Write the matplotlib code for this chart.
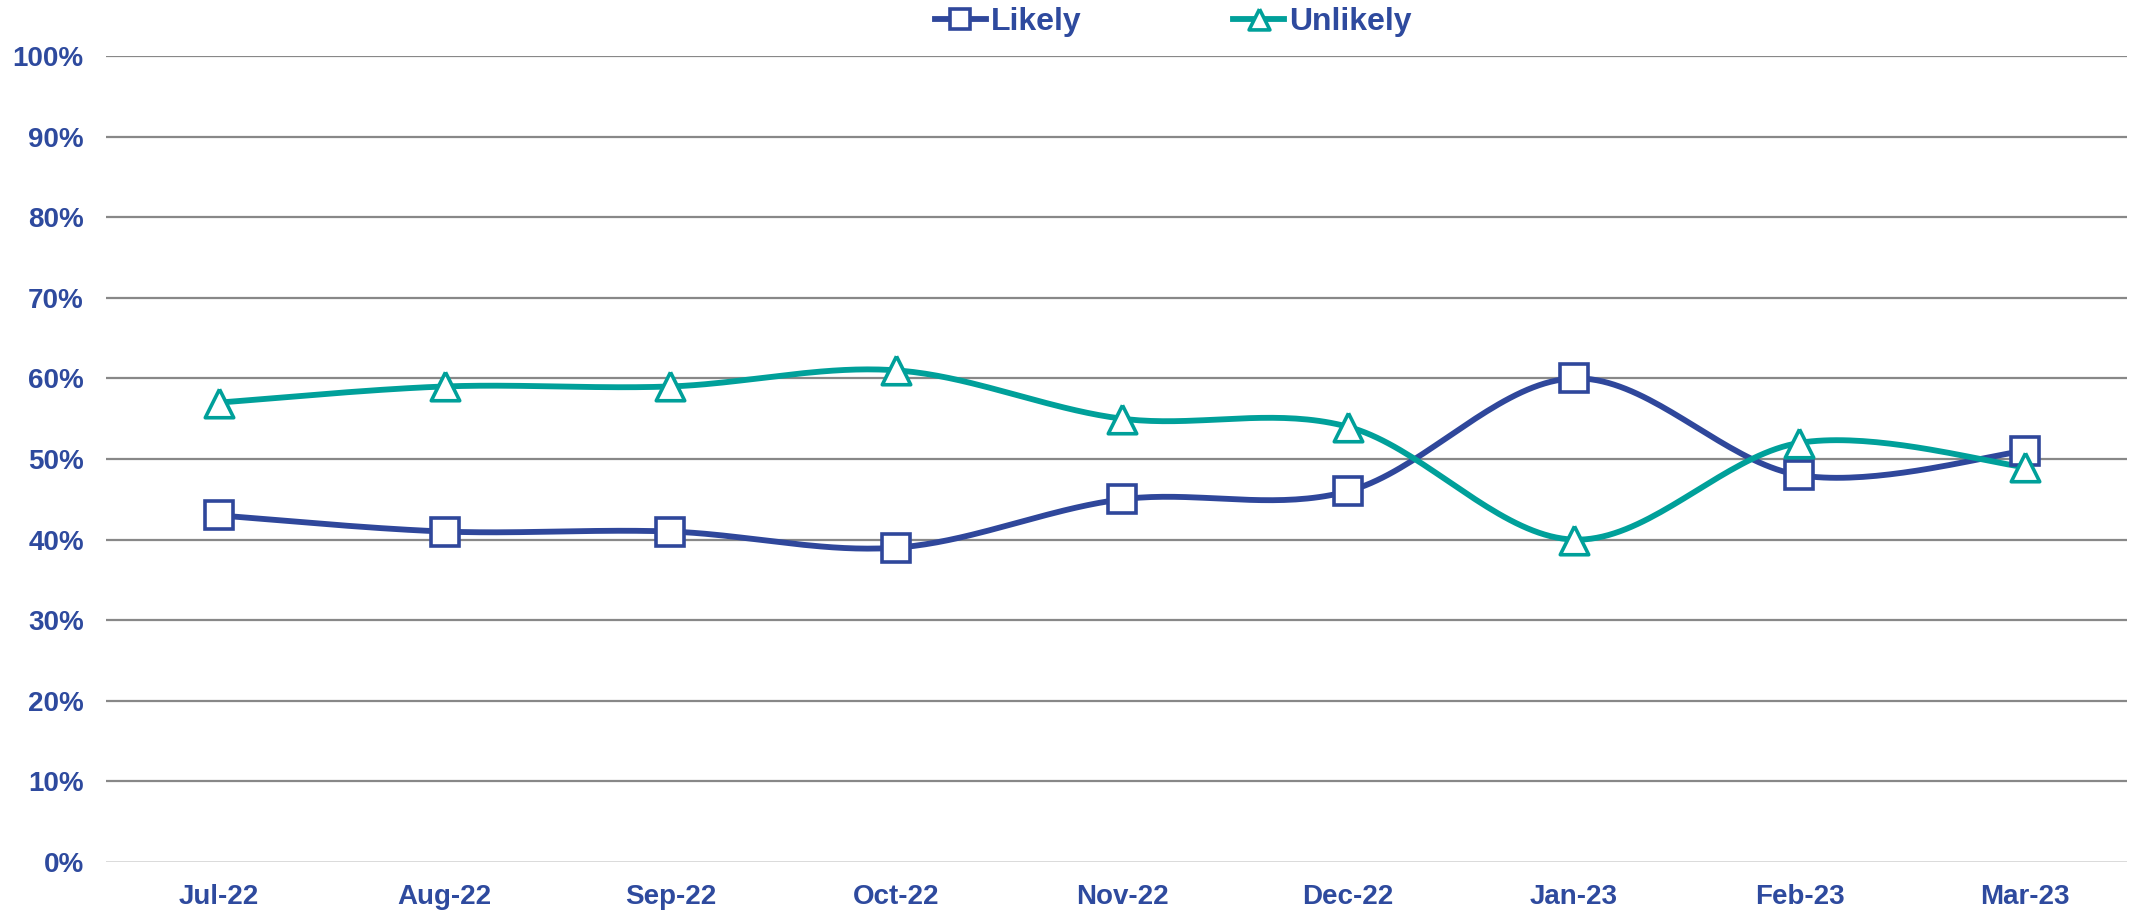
import numpy as np
from matplotlib import pyplot as plt

months = ["Jul-22", "Aug-22", "Sep-22", "Oct-22", "Nov-22", "Dec-22", "Jan-23", "Feb-23", "Mar-23"]
likely = [43, 41, 41, 39, 45, 46, 60, 48, 51]
unlikely = [57, 59, 59, 61, 55, 54, 40, 52, 49]

BLUE = "#2F479B"
TEAL = "#00A09A"
TXT = "#2E4A9E"

# taller triangle like the Excel marker
TRI = [(0, 1), (-1, -1), (1, -1), (0, 1)]


def smooth(xs, ys, n=40):
    # Excel style smoothed line: cubic bezier, control points from neighbours
    p = np.column_stack([xs, ys]).astype(float)
    pts = np.vstack([p[0], p, p[-1]])
    out = []
    for i in range(1, len(pts) - 2):
        p0, p1, p2, p3 = pts[i - 1], pts[i], pts[i + 1], pts[i + 2]
        c1 = p1 + (p2 - p0) / 6
        c2 = p2 - (p3 - p1) / 6
        t = np.linspace(0, 1, n)[:, None]
        seg = (1 - t) ** 3 * p1 + 3 * (1 - t) ** 2 * t * c1 + 3 * (1 - t) * t ** 2 * c2 + t ** 3 * p2
        out.append(seg)
    out = np.vstack(out)
    return out[:, 0], out[:, 1]


plt.rcParams['font.family'] = ['Liberation Sans', 'DejaVu Sans']
plt.rcParams['font.weight'] = 'bold'

fig = plt.figure(figsize=(21.29, 9.13), dpi=100)
ax = fig.add_axes([106 / 2129, (913 - 862) / 913, 1 - 106 / 2129 - 0.001, (862 - 56) / 913])

x = np.arange(len(months))
series = [(likely, BLUE, "s", 20.5, 15, "Likely"), (unlikely, TEAL, TRI, 20.5, 15, "Unlikely")]
for vals, col, mk, ms, lms, lab in series:
    sx, sy = smooth(x, vals)
    ax.plot(sx, sy, color=col, lw=4.2, solid_capstyle="round", zorder=3)
    ax.plot(x, vals, ls="none", marker=mk, ms=ms, mfc="white", mec=col, mew=2.6, zorder=4)
    ax.plot([], [], color=col, lw=4.2, marker=mk, ms=lms, mfc="white", mec=col, mew=2.6, label=lab)

ax.set_xlim(-0.5, 8.45)
ax.set_ylim(0, 100)
ax.set_yticks(range(0, 101, 10))
ax.set_yticklabels([f"{v}%" for v in range(0, 101, 10)])
ax.set_xticks(x)
ax.set_xticklabels(months)
for yv in range(10, 101, 10):
    ax.axhline(yv, color="#888888", lw=1.6, zorder=1)
ax.axhline(0, color="#D0D0D0", lw=1.8, zorder=1)
for s in ax.spines.values():
    s.set_visible(False)
ax.tick_params(length=0, colors=TXT, labelsize=20)
ax.tick_params(axis="y", pad=16)
ax.tick_params(axis="x", pad=16)

leg = fig.legend(loc="center", bbox_to_anchor=(0.551, 1 - 22 / 913), ncol=2, frameon=False,
                 handlelength=1.6, columnspacing=4.75, handletextpad=0.15, fontsize=23)
for t in leg.get_texts():
    t.set_color(TXT)

fig.savefig("out.png", dpi=100)
